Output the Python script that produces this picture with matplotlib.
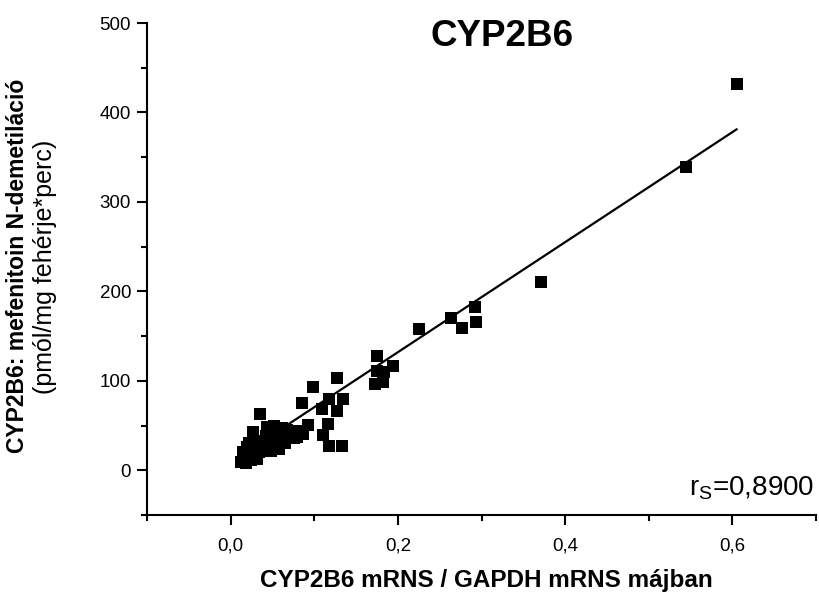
import matplotlib
matplotlib.use('Agg')
import numpy as np
import matplotlib.pyplot as plt
from matplotlib.ticker import FixedLocator, MultipleLocator, FuncFormatter

plt.rcParams['font.family'] = ['Liberation Sans', 'DejaVu Sans']

# CYP2B6 mRNA / GAPDH mRNA (liver samples)
mrna = [0.013, 0.016, 0.015, 0.018, 0.019, 0.021, 0.022, 0.024, 0.025, 0.027,
        0.028, 0.030, 0.032, 0.034, 0.035, 0.036, 0.038, 0.040, 0.042, 0.044,
        0.045, 0.047, 0.048, 0.050, 0.052, 0.054, 0.056, 0.058, 0.060, 0.062,
        0.064, 0.065, 0.067, 0.070, 0.073, 0.076, 0.079, 0.082, 0.086,
        0.085, 0.092, 0.099, 0.109, 0.110, 0.117, 0.118, 0.118, 0.127, 0.127,
        0.133, 0.134, 0.175, 0.175, 0.173, 0.182, 0.184, 0.194, 0.225, 0.264,
        0.277, 0.292, 0.294, 0.371, 0.545, 0.605]
# mephenytoin N-demethylation (pmol/mg protein*min)
activity = [9, 12, 20, 8, 26, 15, 30, 11, 22, 43,
            17, 28, 13, 20, 63, 33, 25, 30, 38, 48,
            26, 35, 22, 42, 50, 30, 45, 24, 36, 47,
            40, 30, 45, 40, 43, 36, 37, 44, 40,
            75, 51, 93, 69, 39, 52, 80, 27, 103, 66,
            27, 80, 128, 111, 97, 99, 110, 117, 158, 170,
            159, 183, 166, 210, 339, 432]

fit_intercept = 9.0
fit_slope = 615.0
r_s = '0,8900'

fig = plt.figure(figsize=(8.19, 5.98), dpi=100)
ax = fig.add_axes([147/819, 83/598, 669/819, 492/598])

ax.plot(mrna, activity, 's', color='black', markersize=8.5, markeredgewidth=0)
xl = np.array([min(mrna), max(mrna)])
ax.plot(xl, fit_intercept + fit_slope * xl, color='black', lw=1.6)

ax.set_xlim(-0.1, 0.7)
ax.set_ylim(-50, 500)
ax.xaxis.set_major_locator(FixedLocator([0.0, 0.2, 0.4, 0.6]))
ax.xaxis.set_minor_locator(MultipleLocator(0.1))
ax.yaxis.set_major_locator(MultipleLocator(100))
ax.yaxis.set_minor_locator(MultipleLocator(50))
ax.xaxis.set_major_formatter(FuncFormatter(lambda v, p: f'{v:.1f}'.replace('.', ',')))

for s in ['top', 'right']:
    ax.spines[s].set_visible(False)
for s in ['left', 'bottom']:
    ax.spines[s].set_linewidth(1.5)
ax.tick_params(which='major', direction='out', length=7.5, width=1.5, labelsize=13.5, pad=4)
ax.tick_params(which='minor', direction='out', length=4, width=1.5)
ax.tick_params(axis='x', which='major', pad=9)

ax.text(0.998, 0.04, r'r$_\mathregular{S}$=' + r_s, transform=ax.transAxes,
        ha='right', va='baseline', fontsize=20)

fig.text(502/819, 1 - 36/598, 'CYP2B6', ha='center', va='center',
         fontsize=26.5, fontweight='bold')
fig.text(486/819, 1 - 580/598, 'CYP2B6 mRNS / GAPDH mRNS májban',
         ha='center', va='center', fontsize=17.5, fontweight='bold')
fig.text(18/819, 1 - 266/598, 'CYP2B6: mefenitoin N-demetiláció',
         ha='center', va='center', rotation=90, fontsize=16.5, fontweight='bold')
fig.text(45/819, 1 - 267/598, '(pmól/mg fehérje*perc)',
         ha='center', va='center', rotation=90, fontsize=18)

fig.savefig('out.png', dpi=100)
